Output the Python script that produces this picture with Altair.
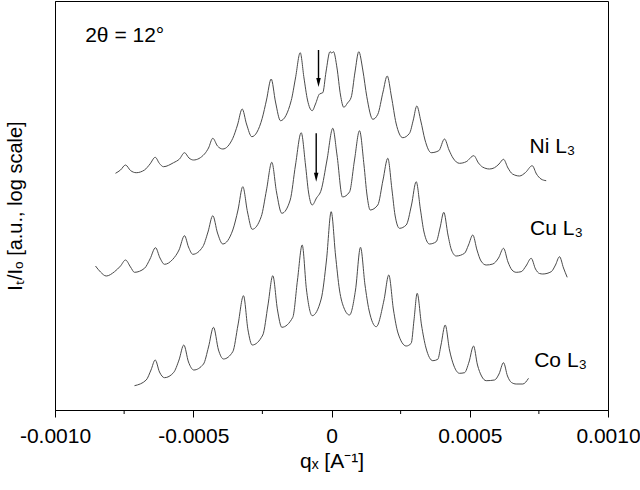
import altair as alt
import pandas as pd

# q_x in units of 1e-4 A^-1 ; intensity: log scale, arbitrary units (curves offset)
ni_q = [-7.812, -7.631, -7.450, -7.269, -7.063, -6.763, -6.564, -6.376, -6.221, -6.076,
        -5.714, -5.497, -5.316, -5.154, -4.991, -4.593, -4.448, -4.293, -4.123, -3.931,
        -3.570, -3.400, -3.230, -3.074, -2.882, -2.506, -2.351, -2.181, -2.025, -1.844,
        -1.458, -1.302, -1.132, -0.995, -0.868, -0.698, -0.579, -0.434, -0.315, -0.199,
        -0.054, 0.011, 0.072, 0.199, 0.325, 0.445, 0.579, 0.712, 0.850, 0.987,
        1.132, 1.277, 1.494, 1.674, 1.863, 2.014, 2.170, 2.333, 2.579, 2.821,
        2.958, 3.085, 3.230, 3.382, 3.606, 3.881, 4.087, 4.250, 4.394, 4.629,
        4.872, 5.146, 5.316, 5.461, 5.714, 5.895, 6.058, 6.221, 6.383, 6.546,
        6.799, 7.016, 7.259, 7.414, 7.577, 7.765]
ni_i = [236.7, 240, 245, 239.5, 237.3, 240, 246, 252.7, 246.5, 243.3,
        247.3, 251, 257.3, 252, 250, 256, 262, 271.7, 264, 261,
        271.7, 285, 301, 286, 273.3, 291.7, 310, 331, 308, 289.3,
        309.3, 332, 357.3, 332, 310, 299.3, 306, 316, 317.3, 338,
        358.3, 357, 358.3, 342, 315, 302.7, 307, 312.7, 338, 358.3,
        340, 313.3, 290.7, 295.7, 318, 334, 313, 287, 272.3, 276.7,
        290, 304, 289, 270, 257.3, 259.3, 271, 260, 252, 246.7,
        248.3, 254.3, 247, 243, 241, 242.3, 246, 250.7, 242, 236,
        234, 237.5, 244.3, 236, 231, 229.3]

cu_q = [-8.535, -8.354, -8.148, -7.848, -7.631, -7.450, -7.269, -7.125,
        -6.763, -6.564, -6.365, -6.203, -6.040, -5.740, -5.515, -5.316, -5.172, -5.016,
        -4.655, -4.467, -4.293, -4.123, -3.931, -3.570, -3.382, -3.208, -3.038, -2.868,
        -2.542, -2.351, -2.159, -1.989, -1.797, -1.494, -1.302, -1.096, -0.940, -0.832,
        -0.698, -0.542, -0.373, -0.163, 0.047, 0.199, 0.398, 0.651, 0.832, 1.013,
        1.175, 1.284, 1.400, 1.674, 1.863, 2.036, 2.188, 2.297, 2.459, 2.702,
        2.893, 3.063, 3.219, 3.345, 3.544, 3.787, 3.924, 4.061, 4.213, 4.340,
        4.510, 4.810, 4.955, 5.110, 5.262, 5.407, 5.595, 5.834, 6.040, 6.221,
        6.383, 6.528, 6.680, 6.861, 7.034, 7.222, 7.378, 7.523, 7.642, 7.946,
        8.101, 8.246, 8.391, 8.524]
cu_i = [144, 138, 134, 138.3, 144, 150, 143, 137.7,
        141.7, 151, 162.3, 152, 145.7, 150.7, 160, 174.3, 163, 155.7,
        163.3, 178, 194.3, 177, 166, 180, 200, 223.3, 198, 180.7,
        193.3, 220, 247.7, 218, 196.7, 210, 245, 277.3, 245, 218,
        205, 212, 220, 250, 281.7, 255, 213, 218, 250, 279.3,
        245, 215, 200, 205, 230, 251.7, 220, 195, 181.7, 185,
        205, 228.3, 200, 178, 166, 168.3, 182, 197.7, 175, 160,
        154, 156.7, 165, 175, 160, 149, 145, 146, 152, 161.7,
        148, 140, 137.7, 138.3, 144, 151.7, 141, 136.5, 136, 138.3,
        145, 153.3, 142, 132.7]

co_q = [-7.125, -6.702, -6.528, -6.376, -6.221, -6.040, -5.714, -5.515, -5.342, -5.172,
        -4.980, -4.629, -4.448, -4.268, -4.087, -3.906, -3.570, -3.382, -3.183, -3.020,
        -2.868, -2.485, -2.297, -2.123, -1.953, -1.797, -1.400, -1.230, -1.060, -0.904,
        -0.698, -0.373, -0.181, -0.011, 0.145, 0.289, 0.452, 0.651, 0.868, 1.049,
        1.212, 1.356, 1.617, 1.899, 2.072, 2.242, 2.405, 2.702, 2.882, 2.984,
        3.099, 3.255, 3.418, 3.664, 3.844, 3.960, 4.112, 4.268, 4.430, 4.629,
        4.810, 4.973, 5.136, 5.280, 5.425, 5.595, 5.895, 6.058, 6.221, 6.365,
        6.510, 6.680, 6.919, 7.125]
co_i = [24.3, 30, 40, 50, 38, 32.3, 37.3, 50, 65, 48,
        40, 46, 63, 82.7, 60, 51, 58.3, 85, 114.3, 80,
        65, 75, 105, 134.3, 100, 82.7, 92.7, 130, 165, 120,
        94.3, 111, 150, 198.3, 155, 120, 102, 95, 120, 162.7,
        125, 100, 83.3, 110, 135, 100, 77, 64, 66.7, 90,
        116.7, 85, 62, 49.3, 50.7, 65, 85, 60, 44, 36.7,
        37.3, 48, 64, 45, 34, 29.3, 30, 36, 47.3, 34,
        27.5, 26, 26, 31.7]

# annotations
label_text = ["Ni L\u2083", "Cu L\u2083", "Co L\u2083", "2\u03b8 = 12\u00b0"]
label_q = [7.161, 7.183, 7.331, -8.908]
label_i = [257, 175, 43.3, 368.3]

arrow_q = [-0.470, -0.553]
arrow_top = [360, 276.7]
arrow_head = [327.5, 232.8]

major_ticks = [-0.001, -0.0005, 0.0, 0.0005, 0.001]
minor_ticks = [-0.00075, -0.00025, 0.00025, 0.00075]

FONT = "Liberation Sans"

rows = []
for name, qs, ys in [("Ni", ni_q, ni_i), ("Cu", cu_q, cu_i), ("Co", co_q, co_i)]:
    for k, (q, y) in enumerate(zip(qs, ys)):
        rows.append({"series": name, "k": k, "q": q * 1e-4, "I": y})
curves = pd.DataFrame(rows)

labels = pd.DataFrame({"q": [v * 1e-4 for v in label_q], "I": label_i, "t": label_text})
arrows = pd.DataFrame({"q": [v * 1e-4 for v in arrow_q], "I": arrow_top, "I2": arrow_head})
heads = pd.DataFrame({"q": [v * 1e-4 for v in arrow_q], "I": arrow_head})
minor = pd.DataFrame({"q": minor_ticks})

xscale = alt.Scale(domain=[-0.001, 0.001], nice=False, zero=False)
yscale = alt.Scale(domain=[0, 409], nice=False, zero=False)

xaxis = alt.Axis(
    values=major_ticks,
    labelExpr="datum.value == 0 ? '0' : (datum.value < 0 ? '-' : '') + format(abs(datum.value), '.4f')",
    title="q\u2093 [A\u207b\u00b9]",
    grid=False, tickSize=7, tickColor="black", domainColor="black",
    labelFont=FONT, labelFontSize=21, labelColor="black", labelPadding=8,
    labelOverlap=False, labelFlush=False,
    titleFont=FONT, titleFontSize=21, titleFontWeight="normal", titleColor="black",
    titlePadding=4,
)
yaxis = alt.Axis(
    labels=False, ticks=False, grid=False, domainColor="black",
    title="I\u209c/I\u2092 [a.u., log scale]",
    titleFont=FONT, titleFontSize=20, titleFontWeight="normal", titleColor="black",
    titlePadding=30, minExtent=0, maxExtent=0,
)

X = alt.X("q:Q", scale=xscale, axis=xaxis)
Y = alt.Y("I:Q", scale=yscale, axis=yaxis)

lines = alt.Chart(curves).mark_line(
    interpolate="monotone", color="#4a4a4a", strokeWidth=1
).encode(x=X, y=Y, detail="series:N", order="k:Q")

minor_rules = alt.Chart(minor).mark_rule(color="black", strokeWidth=1).encode(
    x=X, y=alt.value(409), y2=alt.value(413)
)

arrow_rules = alt.Chart(arrows).mark_rule(color="black", strokeWidth=1.4).encode(
    x=X, y=Y, y2="I2:Q"
)
arrow_heads = alt.Chart(heads).mark_point(
    shape="M-0.5,-1L0.5,-1L0,1Z", filled=True, color="black", size=81, opacity=1
).encode(x=X, y=Y)

texts = alt.Chart(labels).mark_text(
    align="left", baseline="alphabetic", font=FONT, fontSize=21, color="black"
).encode(x=X, y=Y, text="t:N")

chart = alt.layer(lines, minor_rules, arrow_rules, arrow_heads, texts).properties(
    width=553, height=409,
    padding={"left": 55, "top": 1, "right": 32, "bottom": 80},
    autosize=alt.AutoSizeParams(type="none"),
    background="white",
).configure_view(stroke="black", strokeWidth=1)

chart.save("out.html", embed_options={"renderer": "svg", "actions": False})
